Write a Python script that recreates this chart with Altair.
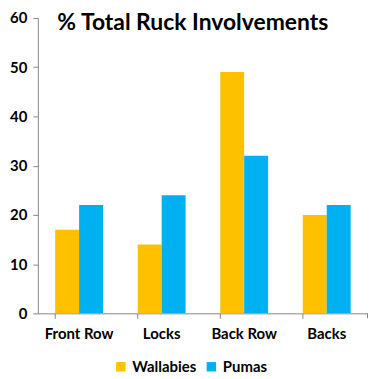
import altair as alt
import pandas as pd

categories = ["Front Row", "Locks", "Back Row", "Backs"]
teams = ["Wallabies", "Pumas"]
wallabies = [17, 14, 49, 20]
pumas = [22, 24, 32, 22]
colors = ["#FFC000", "#00B0F0"]

rows = []
for c, w, p in zip(categories, wallabies, pumas):
    rows.append({"cat": c, "team": "Wallabies", "val": w})
    rows.append({"cat": c, "team": "Pumas", "val": p})
df = pd.DataFrame(rows)

FONT = "Lato"
W, H = 332, 297

bars = alt.Chart(df).mark_bar().encode(
    x=alt.X("cat:N", sort=categories, title=None,
            scale=alt.Scale(paddingInner=0.42, paddingOuter=0.21),
            axis=alt.Axis(labelAngle=0, bandPosition=0, tickSize=5,
                          labelPadding=8, labelFontSize=15, labelFontWeight="bold",
                          labelColor="#000000", domainColor="#868686", tickColor="#868686",
                          labelFont=FONT)),
    xOffset=alt.XOffset("team:N", sort=teams, scale=alt.Scale(paddingInner=0, paddingOuter=0)),
    y=alt.Y("val:Q", title=None,
            scale=alt.Scale(domain=[0, 60], nice=False),
            axis=alt.Axis(values=[0, 10, 20, 30, 40, 50, 60], grid=False, tickSize=5,
                          labelPadding=6, labelFontSize=15, labelFontWeight="bold",
                          labelColor="#000000", domainColor="#868686", tickColor="#868686",
                          labelFont=FONT)),
    color=alt.Color("team:N", sort=teams,
                    scale=alt.Scale(domain=teams, range=colors),
                    legend=alt.Legend(title=None, orient="none", direction="horizontal",
                                      legendX=76, legendY=343, symbolType="square",
                                      symbolSize=90, symbolStrokeWidth=0,
                                      labelFontSize=15, labelFontWeight="bold",
                                      labelFont=FONT, labelColor="#000000",
                                      columnPadding=7, labelOffset=4)),
)

end_tick = alt.Chart(pd.DataFrame({"a": [0]})).mark_rule(color="#868686").encode(
    x=alt.value(W - 0.5), y=alt.value(H), y2=alt.value(H + 5)
)

chart = alt.layer(bars, end_tick).properties(
    width=W,
    height=H,
    autosize="none",
    padding={"left": 30, "top": 9, "right": 0, "bottom": 64},
    title=alt.TitleParams("% Total Ruck Involvements", anchor="start", dx=48, dy=-4,
                          fontSize=23, fontWeight="bold", font=FONT, color="#000000",
                          offset=-28),
).configure_view(stroke=None)

chart.save("out.html", embed_options={"renderer": "svg", "actions": False})
